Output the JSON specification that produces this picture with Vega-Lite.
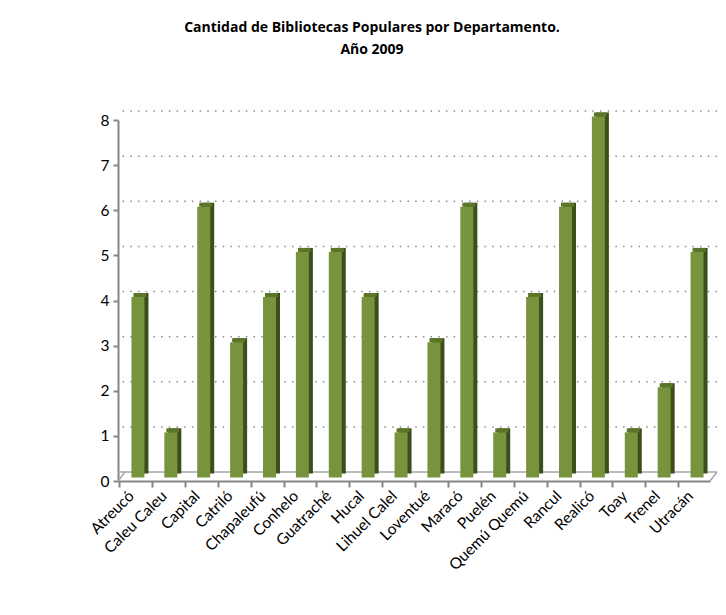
{
  "$schema": "https://vega.github.io/schema/vega-lite/v6.json",
  "autosize": "none",
  "width": 592,
  "height": 361,
  "padding": {"left": 118, "top": 120, "right": 16, "bottom": 134},
  "background": "white",
  "title": {
    "text": ["Cantidad de Bibliotecas Populares por Departamento.", "Año 2009"],
    "font": "Open Sans",
    "fontSize": 14,
    "fontWeight": "bold",
    "color": "#000000",
    "anchor": "middle",
    "dx": -42,
    "offset": 53,
    "lineHeight": 22
  },
  "config": {
    "view": {"stroke": null},
    "axis": {"labelFont": "Lato", "labelFontSize": 15.5, "labelColor": "#000000", "domainColor": "#868686", "tickColor": "#868686", "domainWidth": 2, "tickWidth": 2, "grid": false, "title": null}
  },
  "datasets": {
    "bars": [
      {"departamento": "Atreucó", "cantidad": 4},
      {"departamento": "Caleu Caleu", "cantidad": 1},
      {"departamento": "Capital", "cantidad": 6},
      {"departamento": "Catriló", "cantidad": 3},
      {"departamento": "Chapaleufú", "cantidad": 4},
      {"departamento": "Conhelo", "cantidad": 5},
      {"departamento": "Guatraché", "cantidad": 5},
      {"departamento": "Hucal", "cantidad": 4},
      {"departamento": "Lihuel Calel", "cantidad": 1},
      {"departamento": "Loventué", "cantidad": 3},
      {"departamento": "Maracó", "cantidad": 6},
      {"departamento": "Puelén", "cantidad": 1},
      {"departamento": "Quemú Quemú", "cantidad": 4},
      {"departamento": "Rancul", "cantidad": 6},
      {"departamento": "Realicó", "cantidad": 8},
      {"departamento": "Toay", "cantidad": 1},
      {"departamento": "Trenel", "cantidad": 2},
      {"departamento": "Utracán", "cantidad": 5}
    ],
    "grid": [{"g": 1}, {"g": 2}, {"g": 3}, {"g": 4}, {"g": 5}, {"g": 6}, {"g": 7}, {"g": 8}]
  },
  "layer": [
    {
      "data": {"name": "grid"},
      "mark": {"type": "rule", "color": "#8c8c8c", "strokeWidth": 1.5, "strokeDash": [1.5, 6.2], "xOffset": 7, "x2Offset": 7, "yOffset": -9},
      "encoding": {"y": {"field": "g", "type": "quantitative", "scale": {"domain": [0, 8]},
        "axis": {"values": [0, 1, 2, 3, 4, 5, 6, 7, 8], "tickSize": 5, "labelPadding": 4}}}
    },
    {
      "data": {"values": [{"g": 0}]},
      "mark": {"type": "rule", "color": "#a6a6a6", "strokeWidth": 1.5, "xOffset": 7, "x2Offset": 7, "yOffset": -9},
      "encoding": {"y": {"field": "g", "type": "quantitative"}}
    },
    {
      "data": {"values": [{"g": 0}]},
      "mark": {"type": "rule", "color": "#a6a6a6", "strokeWidth": 1.5, "x2Offset": 7, "y2Offset": -9},
      "encoding": {"x": {"value": 0}, "x2": {"value": 0}, "y": {"field": "g", "type": "quantitative"}, "y2": {"field": "g"}}
    },
    {
      "data": {"values": [{"g": 0}]},
      "mark": {"type": "rule", "color": "#a6a6a6", "strokeWidth": 1.5, "x2Offset": 7, "y2Offset": -9},
      "encoding": {"x": {"value": {"expr": "width"}}, "x2": {"value": {"expr": "width"}}, "y": {"field": "g", "type": "quantitative"}, "y2": {"field": "g"}}
    },
    {
      "data": {"name": "bars"},
      "mark": {"type": "bar", "color": "#3d4e1d", "size": 13, "xOffset": 7.5, "yOffset": -7.5, "y2Offset": -6.5},
      "encoding": {
        "x": {"field": "departamento", "type": "nominal", "sort": null,
          "axis": {"labelAngle": -45, "bandPosition": 0, "tickSize": 6, "labelPadding": 6, "labelOffset": -3, "labelAlign": "right", "labelBaseline": "middle"}},
        "y": {"field": "cantidad", "type": "quantitative"}
      }
    },
    {
      "data": {"name": "bars"},
      "mark": {"type": "bar", "color": "#5b7629", "size": 13, "xOffset": 5.5, "yOffset": -7.5, "y2Offset": -3.5},
      "encoding": {
        "x": {"field": "departamento", "type": "nominal", "sort": null},
        "y": {"field": "cantidad", "type": "quantitative"},
        "y2": {"field": "cantidad"}
      }
    },
    {
      "data": {"name": "bars"},
      "mark": {"type": "bar", "color": "#77933c", "size": 13, "xOffset": 3.5, "yOffset": -3.5, "y2Offset": -3},
      "encoding": {
        "x": {"field": "departamento", "type": "nominal", "sort": null},
        "y": {"field": "cantidad", "type": "quantitative"}
      }
    }
  ]
}
